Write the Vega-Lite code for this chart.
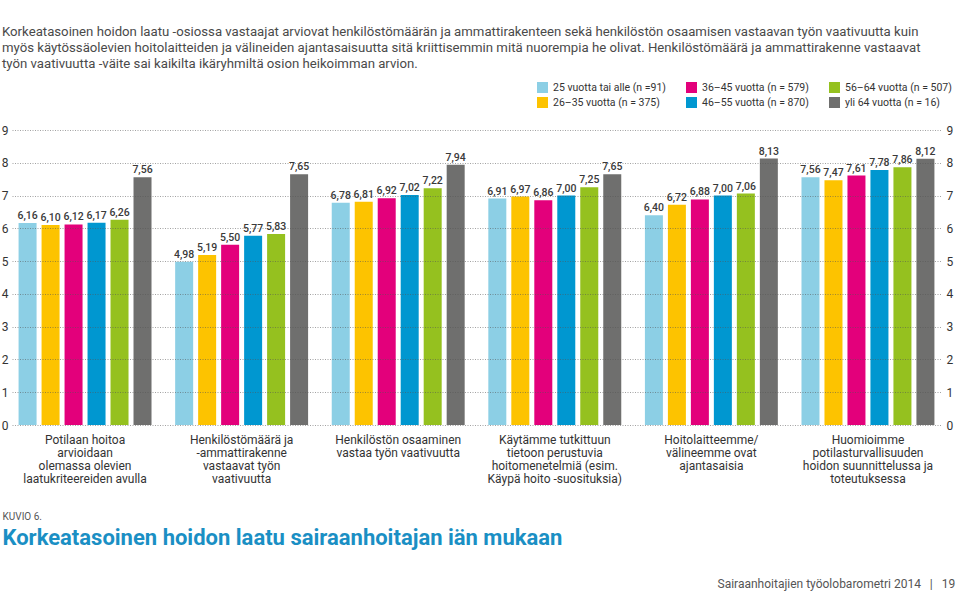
{
  "$schema": "https://vega.github.io/schema/vega-lite/v6.json",
  "width": 929,
  "height": 295,
  "autosize": {"type": "none"},
  "padding": {"left": 12, "top": 130, "right": 19, "bottom": 180},
  "background": "white",
  "config": {
    "locale": {"number": {"decimal": ",", "thousands": " ", "grouping": [3], "currency": ["", " €"]}},
    "view": {"stroke": null},
    "font": "Roboto"
  },
  "title": {
    "text": [
      "Korkeatasoinen hoidon laatu -osiossa vastaajat arviovat henkilöstömäärän ja ammattirakenteen sekä henkilöstön osaamisen vastaavan työn vaativuutta kuin",
      "myös käytössäolevien hoitolaitteiden ja välineiden ajantasaisuutta sitä kriittisemmin mitä nuorempia he olivat. Henkilöstömäärä ja ammattirakenne vastaavat",
      "työn vaativuutta -väite sai kaikilta ikäryhmiltä osion heikoimman arvion."
    ],
    "anchor": "start",
    "frame": "group",
    "font": "Roboto",
    "fontSize": 13.2,
    "fontWeight": "normal",
    "color": "#4a4a4a",
    "lineHeight": 16,
    "dx": -10,
    "dy": -7
  },
  "data": {
    "values": [
      {"kysymys": "Potilaan hoitoa\narvioidaan\nolemassa olevien\nlaatukriteereiden avulla", "ika": "25 vuotta tai alle (n =91)", "keskiarvo": 6.16},
      {"kysymys": "Potilaan hoitoa\narvioidaan\nolemassa olevien\nlaatukriteereiden avulla", "ika": "26–35 vuotta (n = 375)", "keskiarvo": 6.10},
      {"kysymys": "Potilaan hoitoa\narvioidaan\nolemassa olevien\nlaatukriteereiden avulla", "ika": "36–45 vuotta (n = 579)", "keskiarvo": 6.12},
      {"kysymys": "Potilaan hoitoa\narvioidaan\nolemassa olevien\nlaatukriteereiden avulla", "ika": "46–55 vuotta (n = 870)", "keskiarvo": 6.17},
      {"kysymys": "Potilaan hoitoa\narvioidaan\nolemassa olevien\nlaatukriteereiden avulla", "ika": "56–64 vuotta (n = 507)", "keskiarvo": 6.26},
      {"kysymys": "Potilaan hoitoa\narvioidaan\nolemassa olevien\nlaatukriteereiden avulla", "ika": "yli 64 vuotta (n = 16)", "keskiarvo": 7.56},
      {"kysymys": "Henkilöstömäärä ja\n-ammattirakenne\nvastaavat työn\nvaativuutta", "ika": "25 vuotta tai alle (n =91)", "keskiarvo": 4.98},
      {"kysymys": "Henkilöstömäärä ja\n-ammattirakenne\nvastaavat työn\nvaativuutta", "ika": "26–35 vuotta (n = 375)", "keskiarvo": 5.19},
      {"kysymys": "Henkilöstömäärä ja\n-ammattirakenne\nvastaavat työn\nvaativuutta", "ika": "36–45 vuotta (n = 579)", "keskiarvo": 5.50},
      {"kysymys": "Henkilöstömäärä ja\n-ammattirakenne\nvastaavat työn\nvaativuutta", "ika": "46–55 vuotta (n = 870)", "keskiarvo": 5.77},
      {"kysymys": "Henkilöstömäärä ja\n-ammattirakenne\nvastaavat työn\nvaativuutta", "ika": "56–64 vuotta (n = 507)", "keskiarvo": 5.83},
      {"kysymys": "Henkilöstömäärä ja\n-ammattirakenne\nvastaavat työn\nvaativuutta", "ika": "yli 64 vuotta (n = 16)", "keskiarvo": 7.65},
      {"kysymys": "Henkilöstön osaaminen\nvastaa työn vaativuutta", "ika": "25 vuotta tai alle (n =91)", "keskiarvo": 6.78},
      {"kysymys": "Henkilöstön osaaminen\nvastaa työn vaativuutta", "ika": "26–35 vuotta (n = 375)", "keskiarvo": 6.81},
      {"kysymys": "Henkilöstön osaaminen\nvastaa työn vaativuutta", "ika": "36–45 vuotta (n = 579)", "keskiarvo": 6.92},
      {"kysymys": "Henkilöstön osaaminen\nvastaa työn vaativuutta", "ika": "46–55 vuotta (n = 870)", "keskiarvo": 7.02},
      {"kysymys": "Henkilöstön osaaminen\nvastaa työn vaativuutta", "ika": "56–64 vuotta (n = 507)", "keskiarvo": 7.22},
      {"kysymys": "Henkilöstön osaaminen\nvastaa työn vaativuutta", "ika": "yli 64 vuotta (n = 16)", "keskiarvo": 7.94},
      {"kysymys": "Käytämme tutkittuun\ntietoon perustuvia\nhoitomenetelmiä (esim.\nKäypä hoito -suosituksia)", "ika": "25 vuotta tai alle (n =91)", "keskiarvo": 6.91},
      {"kysymys": "Käytämme tutkittuun\ntietoon perustuvia\nhoitomenetelmiä (esim.\nKäypä hoito -suosituksia)", "ika": "26–35 vuotta (n = 375)", "keskiarvo": 6.97},
      {"kysymys": "Käytämme tutkittuun\ntietoon perustuvia\nhoitomenetelmiä (esim.\nKäypä hoito -suosituksia)", "ika": "36–45 vuotta (n = 579)", "keskiarvo": 6.86},
      {"kysymys": "Käytämme tutkittuun\ntietoon perustuvia\nhoitomenetelmiä (esim.\nKäypä hoito -suosituksia)", "ika": "46–55 vuotta (n = 870)", "keskiarvo": 7.00},
      {"kysymys": "Käytämme tutkittuun\ntietoon perustuvia\nhoitomenetelmiä (esim.\nKäypä hoito -suosituksia)", "ika": "56–64 vuotta (n = 507)", "keskiarvo": 7.25},
      {"kysymys": "Käytämme tutkittuun\ntietoon perustuvia\nhoitomenetelmiä (esim.\nKäypä hoito -suosituksia)", "ika": "yli 64 vuotta (n = 16)", "keskiarvo": 7.65},
      {"kysymys": "Hoitolaitteemme/\nvälineemme ovat\najantasaisia", "ika": "25 vuotta tai alle (n =91)", "keskiarvo": 6.40},
      {"kysymys": "Hoitolaitteemme/\nvälineemme ovat\najantasaisia", "ika": "26–35 vuotta (n = 375)", "keskiarvo": 6.72},
      {"kysymys": "Hoitolaitteemme/\nvälineemme ovat\najantasaisia", "ika": "36–45 vuotta (n = 579)", "keskiarvo": 6.88},
      {"kysymys": "Hoitolaitteemme/\nvälineemme ovat\najantasaisia", "ika": "46–55 vuotta (n = 870)", "keskiarvo": 7.00},
      {"kysymys": "Hoitolaitteemme/\nvälineemme ovat\najantasaisia", "ika": "56–64 vuotta (n = 507)", "keskiarvo": 7.06},
      {"kysymys": "Hoitolaitteemme/\nvälineemme ovat\najantasaisia", "ika": "yli 64 vuotta (n = 16)", "keskiarvo": 8.13},
      {"kysymys": "Huomioimme\npotilasturvallisuuden\nhoidon suunnittelussa ja\ntoteutuksessa", "ika": "25 vuotta tai alle (n =91)", "keskiarvo": 7.56},
      {"kysymys": "Huomioimme\npotilasturvallisuuden\nhoidon suunnittelussa ja\ntoteutuksessa", "ika": "26–35 vuotta (n = 375)", "keskiarvo": 7.47},
      {"kysymys": "Huomioimme\npotilasturvallisuuden\nhoidon suunnittelussa ja\ntoteutuksessa", "ika": "36–45 vuotta (n = 579)", "keskiarvo": 7.61},
      {"kysymys": "Huomioimme\npotilasturvallisuuden\nhoidon suunnittelussa ja\ntoteutuksessa", "ika": "46–55 vuotta (n = 870)", "keskiarvo": 7.78},
      {"kysymys": "Huomioimme\npotilasturvallisuuden\nhoidon suunnittelussa ja\ntoteutuksessa", "ika": "56–64 vuotta (n = 507)", "keskiarvo": 7.86},
      {"kysymys": "Huomioimme\npotilasturvallisuuden\nhoidon suunnittelussa ja\ntoteutuksessa", "ika": "yli 64 vuotta (n = 16)", "keskiarvo": 8.12}
    ]
  },
  "encoding": {
    "x": {
      "field": "kysymys",
      "type": "nominal",
      "sort": null,
      "scale": {"paddingInner": 0.151, "paddingOuter": 0.042},
      "axis": {
        "orient": "bottom",
        "title": "Korkeatasoinen hoidon laatu sairaanhoitajan iän mukaan",
        "titleX": -10,
        "titleY": 112,
        "titleAlign": "left",
        "titleBaseline": "middle",
        "titleAnchor": "start",
        "titleFont": "Roboto",
        "titleFontSize": 22,
        "titleFontWeight": "bold",
        "titleColor": "#1a8fc4",
        "labelAngle": 0,
        "labelExpr": "split(datum.label, '\\n')",
        "labelFontSize": 12,
        "labelColor": "#333333",
        "labelLineHeight": 13,
        "labelPadding": 9,
        "labelBaseline": "top",
        "labelLimit": 300,
        "ticks": false,
        "domain": false,
        "grid": false
      }
    },
    "xOffset": {
      "field": "ika",
      "type": "nominal",
      "sort": ["25 vuotta tai alle (n =91)", "26–35 vuotta (n = 375)", "36–45 vuotta (n = 579)", "46–55 vuotta (n = 870)", "56–64 vuotta (n = 507)", "yli 64 vuotta (n = 16)"],
      "scale": {"paddingInner": 0.217, "paddingOuter": 0}
    }
  },
  "layer": [
    {
      "mark": {"type": "bar"},
      "encoding": {
        "y": {
          "field": "keskiarvo",
          "type": "quantitative",
          "scale": {"domain": [0, 9]},
          "axis": {
            "orient": "left",
            "values": [0, 1, 2, 3, 4, 5, 6, 7, 8, 9],
            "title": "KUVIO 6.",
            "titleAngle": 0,
            "titleX": -10,
            "titleY": 386,
            "titleAlign": "left",
            "titleBaseline": "middle",
            "titleFontSize": 10,
            "titleFontWeight": "normal",
            "titleColor": "#555555",
            "grid": true,
            "gridColor": "#555555",
            "gridOpacity": 0.55,
            "gridDash": [1, 1.5],
            "gridWidth": 1,
            "ticks": false,
            "domain": false,
            "labelPadding": 4,
            "labelFontSize": 12,
            "labelColor": "#333333",
            "zindex": 1
          }
        },
        "color": {
          "field": "ika",
          "type": "nominal",
          "scale": {
            "domain": ["25 vuotta tai alle (n =91)", "26–35 vuotta (n = 375)", "36–45 vuotta (n = 579)", "46–55 vuotta (n = 870)", "56–64 vuotta (n = 507)", "yli 64 vuotta (n = 16)"],
            "range": ["#8ccfe5", "#fdc300", "#e3007b", "#0097d0", "#95c11f", "#6f6f6e"]
          },
          "legend": {
            "orient": "none",
            "legendX": 525,
            "legendY": -48,
            "columns": 3,
            "title": null,
            "symbolType": "square",
            "symbolSize": 121,
            "symbolStrokeWidth": 0,
            "symbolOpacity": 1,
            "labelFontSize": 10.5,
            "labelColor": "#333333",
            "labelOffset": 5,
            "columnPadding": 20,
            "rowPadding": 4
          }
        }
      }
    },
    {
      "mark": {"type": "text", "dy": -7, "fontSize": 10.5, "fontWeight": 500, "color": "#3a3a3a"},
      "encoding": {
        "y": {
          "field": "keskiarvo",
          "type": "quantitative",
          "scale": {"domain": [0, 9]},
          "axis": {
            "orient": "right",
            "values": [0, 1, 2, 3, 4, 5, 6, 7, 8, 9],
            "title": "Sairaanhoitajien työolobarometri 2014\u00a0\u00a0\u00a0|\u00a0\u00a0\u00a019",
            "titleAngle": 0,
            "titleX": -224,
            "titleY": 453,
            "titleAlign": "left",
            "titleBaseline": "middle",
            "titleFontSize": 12,
            "titleFontWeight": "normal",
            "titleColor": "#555555",
            "grid": false,
            "ticks": false,
            "domain": false,
            "labelPadding": 5,
            "labelFontSize": 12,
            "labelColor": "#333333"
          }
        },
        "text": {"field": "keskiarvo", "type": "quantitative", "format": ".2f"}
      }
    }
  ],
  "resolve": {"axis": {"y": "independent"}}
}
